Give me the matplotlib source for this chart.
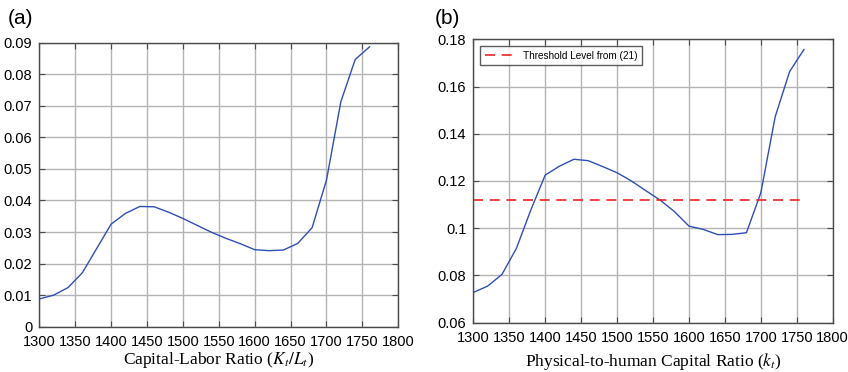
import matplotlib
matplotlib.use('Agg')
import matplotlib.pyplot as plt
import numpy as np

# Data
years = np.arange(1300, 1761, 20)

kl_ratio = [0.0088, 0.0100, 0.0124, 0.0171, 0.0248, 0.0325, 0.0359, 0.0381,
            0.0380, 0.0363, 0.0343, 0.0321, 0.0299, 0.0280, 0.0263, 0.0244,
            0.0241, 0.0243, 0.0264, 0.0314, 0.0465, 0.0713, 0.0847, 0.0887]

kh_ratio = [0.0728, 0.0755, 0.0805, 0.0915, 0.1077, 0.1225, 0.1263, 0.1292,
            0.1286, 0.1261, 0.1235, 0.1200, 0.1159, 0.1119, 0.1070, 0.1009,
            0.0995, 0.0973, 0.0974, 0.0981, 0.1150, 0.1472, 0.1663, 0.1757]

threshold = 0.112
xticks = np.arange(1300, 1801, 50)

BLUE = '#2f4fb4'
GRID = '#b4b4b4'
SPINE = '#4a4a4a'

plt.rcParams['font.family'] = ['Liberation Sans', 'DejaVu Sans']
plt.rcParams['mathtext.fontset'] = 'stix'

fig = plt.figure(figsize=(8.48, 3.72), dpi=100)
W, H = 848, 372


def make_axes(l, r, t, b):
    return fig.add_axes([l / W, 1 - b / H, (r - l) / W, (b - t) / H])


def style(ax):
    ax.grid(True, color=GRID, linewidth=1.0)
    ax.set_axisbelow(True)
    for s in ax.spines.values():
        s.set_color(SPINE)
        s.set_linewidth(1.0)
    ax.tick_params(direction='in', length=4, width=0.8, color=SPINE,
                   top=True, right=True, labelsize=10.5,
                   labelcolor='black')
    ax.tick_params(axis='x', pad=6)
    ax.tick_params(axis='y', pad=5)
    ax.set_xlim(1300, 1800)
    ax.set_xticks(xticks)


# Panel (a)
ax1 = make_axes(39.3, 398.3, 42.7, 326.7)
ax1.plot(years, kl_ratio, color=BLUE, linewidth=1.0)
style(ax1)
ax1.set_ylim(0, 0.09)
ax1.set_yticks(np.arange(0, 0.091, 0.01))
ax1.set_yticklabels(['0'] + ['%.2f' % v for v in np.arange(0.01, 0.091, 0.01)])
ax1.set_xlabel(r'Capital-Labor Ratio ($K_t/L_t$)', family='Liberation Serif',
               fontsize=12.5, labelpad=1)
fig.text(8 / W, 1 - 19 / H, '(a)', fontsize=15, va='center', ha='left')

# Panel (b)
ax2 = make_axes(473.3, 832.7, 39.3, 322.7)
ax2.plot(years, kh_ratio, color=BLUE, linewidth=1.0)
ax2.plot([years[0], years[-1]], [threshold, threshold], color='#ee2222',
         linestyle=(0, (6, 4)), linewidth=1.2, label='Threshold Level from (21)')
style(ax2)
ax2.set_ylim(0.06, 0.18)
ax2.set_yticks(np.arange(0.06, 0.181, 0.02))
ax2.set_yticklabels(['0.06', '0.08', '0.1', '0.12', '0.14', '0.16', '0.18'])
ax2.set_xlabel(r'Physical-to-human Capital Ratio ($k_t$)',
               family='Liberation Serif', fontsize=12.5, labelpad=4)
leg = ax2.legend(loc='upper left', fontsize=7.2, frameon=True, fancybox=False,
                 borderpad=0.45, handlelength=3.0, borderaxespad=0.7)
leg.get_frame().set_edgecolor('#333333')
leg.get_frame().set_linewidth(1.0)
fig.text(435 / W, 1 - 19 / H, '(b)', fontsize=15, va='center', ha='left')

fig.savefig('out.png', dpi=100)
